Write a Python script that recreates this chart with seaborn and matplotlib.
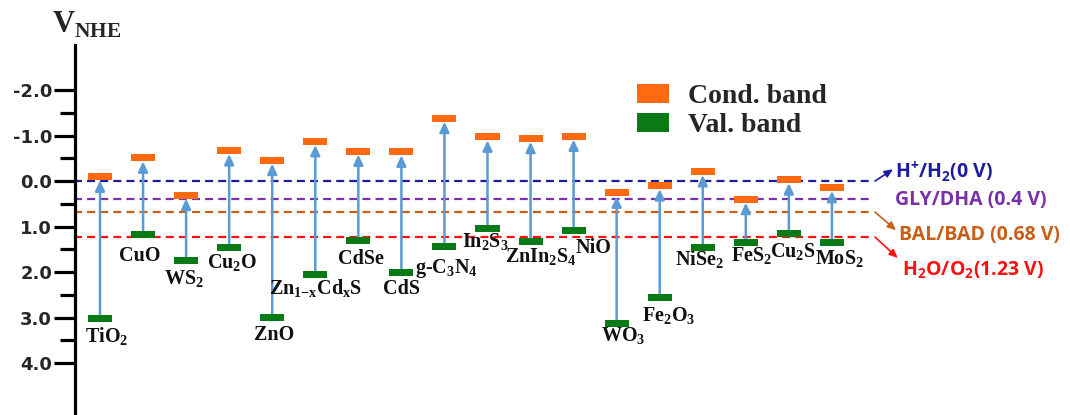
import numpy as np
import pandas as pd
import matplotlib
matplotlib.use("Agg")
import matplotlib.pyplot as plt
import seaborn as sns
from matplotlib.path import Path
from matplotlib.patches import Patch

# ---------------- data ----------------
materials = ["TiO$_\\mathregular{2}$", "CuO", "WS$_\\mathregular{2}$", "Cu$_\\mathregular{2}$O", "ZnO",
             "Zn$_\\mathregular{1{-}x}$Cd$_\\mathregular{x}$S", "CdSe", "CdS",
             "g-C$_\\mathregular{3}$N$_\\mathregular{4}$", "In$_\\mathregular{2}$S$_\\mathregular{3}$",
             "ZnIn$_\\mathregular{2}$S$_\\mathregular{4}$", "NiO", "WO$_\\mathregular{3}$",
             "Fe$_\\mathregular{2}$O$_\\mathregular{3}$", "NiSe$_\\mathregular{2}$", "FeS$_\\mathregular{2}$",
             "Cu$_\\mathregular{2}$S", "MoS$_\\mathregular{2}$"]
cond_band = [-0.09, -0.51, 0.31, -0.67, -0.46, -0.87, -0.66, -0.64, -1.38, -0.97,
             -0.94, -0.99, 0.26, 0.10, -0.21, 0.40, -0.03, 0.14]
val_band = [3.03, 1.18, 1.74, 1.45, 3.00, 2.06, 1.30, 2.00, 1.44, 1.05,
            1.33, 1.08, 3.13, 2.56, 1.47, 1.35, 1.15, 1.36]
redox_potential = [0.0, 0.4, 0.68, 1.23]
redox_labels = ["H$^\\mathregular{+}$/H$_\\mathregular{2}$(0 V)", "GLY/DHA (0.4 V)",
                "BAL/BAD (0.68 V)", "H$_\\mathregular{2}$O/O$_\\mathregular{2}$(1.23 V)"]
y_major = [-2.0, -1.0, 0.0, 1.0, 2.0, 3.0, 4.0]
y_minor = [-1.5, -0.5, 0.5, 1.5, 2.5, 3.5]
band_names = ["Cond. band", "Val. band"]

# ---------------- styles / layout ----------------
band_colors = {"Cond. band": "#ff6a10", "Val. band": "#0a7a16"}
redox_colors = ["#1c1ca0", "#7a30a8", "#c8601a", "#ff1010"]
arrow_color = "#5b9bd5"
# label offsets from the valence bar (pixels: dx, baseline drop)
label_offsets = [(7, 24), (-3, 26), (-2, 24), (3, 22), (2, 22), (0, 20), (3, 24), (0, 22),
                 (2, 26), (-2, 19), (10, 21), (20, 23), (7, 18), (9, 24), (-3, 18), (6, 19),
                 (4, 24), (8, 22)]
# redox label layout in data units
redox_text_pos = [(18.47, -0.20), (18.47, 0.42), (18.56, 1.19), (18.63, 1.96)]
redox_arrow_tip = [(18.42, -0.26), None, (18.49, 1.08), (18.53, 1.69)]

sns.set_style("white")
plt.rcParams["font.family"] = ["DejaVu Sans"]

df = pd.DataFrame({
    "material": materials * 2,
    "slot": list(range(len(materials))) * 2,
    "band": [band_names[0]] * len(materials) + [band_names[1]] * len(materials),
    "potential": cond_band + val_band,
})

fig = plt.figure(figsize=(10.7, 4.15), dpi=100)
ax = fig.add_axes([75 / 1070, 0, 995 / 1070, 370 / 415])

# redox reference dashed lines
line_end = 17.95
for pot, col in zip(redox_potential, redox_colors):
    ax.hlines(pot, -0.6, line_end, colors=col, linestyles=(0, (3.6, 2.3)), lw=1.6, zorder=2)

# arrows VB -> CB
for i, (cb, vb) in enumerate(zip(cond_band, val_band)):
    ax.annotate("", xy=(i, cb), xytext=(i, vb),
                arrowprops=dict(arrowstyle="-|>,head_length=0.6,head_width=0.28",
                                color=arrow_color, lw=1.8, shrinkA=2.5, shrinkB=2.5),
                zorder=3)

bar_marker = Path([(-12, -3.5), (12, -3.5), (12, 3.5), (-12, 3.5), (-12, -3.5)],
                  [Path.MOVETO, Path.LINETO, Path.LINETO, Path.LINETO, Path.CLOSEPOLY])
sns.scatterplot(data=df, x="slot", y="potential", hue="band", palette=band_colors,
                marker=bar_marker, s=300, linewidth=0, legend=False, ax=ax, zorder=4)

# material labels
for i, (name, vb) in enumerate(zip(materials, val_band)):
    dx, dy = label_offsets[i]
    ax.annotate(name, xy=(i, vb), xytext=(dx * 0.72, -dy * 0.72), textcoords="offset points",
                ha="center", va="baseline", fontsize=14.5, fontweight="bold",
                family=["Liberation Serif", "DejaVu Serif"], color="#111111")

# redox labels with arrows
for k, (lab, col) in enumerate(zip(redox_labels, redox_colors)):
    tx, ty = redox_text_pos[k]
    ax.text(tx, ty, lab, color=col, fontsize=14, fontweight="bold",
            family=["Open Sans", "DejaVu Sans"], ha="left", va="center")
    if redox_arrow_tip[k] is not None:
        ax.annotate("", xy=redox_arrow_tip[k], xytext=(line_end + 0.05, redox_potential[k]),
                    arrowprops=dict(arrowstyle="-|>,head_length=0.5,head_width=0.22",
                                    color=col, lw=1.2, shrinkA=0, shrinkB=0))

# axes styling
ax.set_xlim(-0.581, 22.53)
ax.set_ylim(5.14, -2.99)
ax.set_xticks([])
ax.set_xlabel("")
ax.set_ylabel("")
for s in ["top", "right", "bottom"]:
    ax.spines[s].set_visible(False)
ax.spines["left"].set_linewidth(2.3)
ax.spines["left"].set_color("black")
ax.set_yticks(y_major)
ax.set_yticks(y_minor, minor=True)
ax.set_yticklabels([f"{t:.1f}" for t in y_major], fontsize=13, fontweight="bold",
                   family="DejaVu Sans")
ax.tick_params(axis="y", which="major", length=15, width=2.3, pad=1.5, color="black", left=True)
ax.tick_params(axis="y", which="minor", length=11, width=2.3, color="black", left=True)

# axis title
fig.text(52 / 1070, 1 - 33 / 415, "V$_\\mathregular{NHE}$", fontsize=22, fontweight="bold",
         family=["Liberation Serif", "DejaVu Serif"], va="baseline", ha="left")

# legend
handles = [Patch(facecolor=band_colors[b], edgecolor="none", label=b) for b in band_names]
fig.legend(handles=handles, loc="upper left", bbox_to_anchor=(637 / 1070, 1 - 84 / 415),
           frameon=False, prop={"family": "Liberation Serif", "weight": "bold", "size": 20},
           handlelength=1.15, handleheight=0.65, handletextpad=0.68, labelspacing=0.15,
           borderpad=0, borderaxespad=0)

fig.savefig("out.png", dpi=100)
